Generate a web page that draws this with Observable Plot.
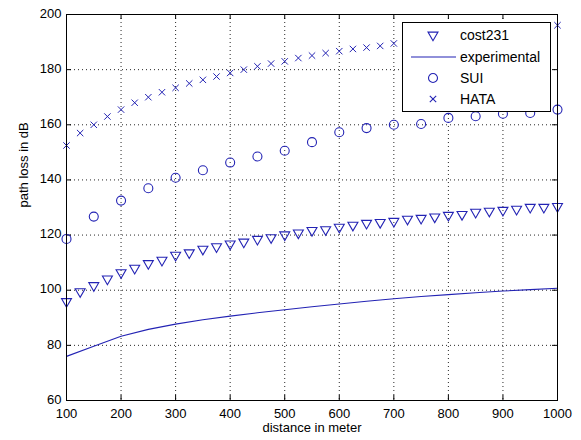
<!DOCTYPE html>
<html>
<head>
<meta charset="utf-8">
<script src="https://cdn.jsdelivr.net/npm/d3@7"></script>
<script src="https://cdn.jsdelivr.net/npm/@observablehq/plot@0.6"></script>
<style>
  html, body { margin: 0; padding: 0; background: #fff; }
  #chart { width: 581px; height: 440px; }
</style>
</head>
<body>
<div id="chart"></div>
<script>
const x25 = [100,125,150,175,200,225,250,275,300,325,350,375,400,425,450,475,500,525,550,575,600,625,650,675,700,725,750,775,800,825,850,875,900,925,950,975,1000];
const x50 = [100,150,200,250,300,350,400,450,500,550,600,650,700,750,800,850,900,950,1000];
const cost231 = [95.9,99.5,101.7,104.1,106.4,108,109.7,110.9,112.7,113.6,114.9,115.8,116.8,117.5,118.5,119.1,120.1,120.8,121.7,122.0,122.9,123.6,124.3,124.6,125.0,125.8,126.1,126.6,127.2,127.5,128.3,128.7,129.0,129.4,130.1,130.1,130.4];
const hata = [152.5,157,160,163,165.5,168,170,171.8,173.4,175,176.3,177.5,178.8,180,181.2,182.2,183,184.2,185.1,186,186.7,187.5,188,188.6,189.5,190.2,190.8,191.5,192.1,192.7,193.3,193.8,194.3,194.9,195.3,195.8,196.1];
const sui = [118.6,126.7,132.5,137,140.8,143.5,146.3,148.5,150.6,153.7,157.3,158.8,160,160.3,162.5,163.1,164,164.3,165.5];
const experimental = [76,79.7,83.3,85.8,87.7,89.3,90.6,91.8,92.9,94,95,96,96.9,97.7,98.4,99.1,99.7,100.2,100.7];
const xTicks = [100,200,300,400,500,600,700,800,900,1000];
const yTicks = [60,80,100,120,140,160,180,200];
const legendLabels = ["cost231","experimental","SUI","HATA"];

const costData = x25.map((d,i) => ({x: d, y: cost231[i]}));
const hataData = x25.map((d,i) => ({x: d, y: hata[i]}));
const suiData = x50.map((d,i) => ({x: d, y: sui[i]}));
const expData = x50.map((d,i) => ({x: d, y: experimental[i]}));

const W = 581, H = 440, mL = 66, mR = 24, mT = 14, mB = 40;
const iW = W - mL - mR, iH = H - mT - mB;
const blue = "#2323b4";
const font = "'Liberation Sans', Arial, sans-serif";

const chart = Plot.plot({
  width: W, height: H,
  marginLeft: mL, marginRight: mR, marginTop: mT, marginBottom: mB,
  style: {fontFamily: font, fontSize: "13px", color: "#000", background: "#fff"},
  x: {domain: [100, 1000]},
  y: {domain: [60, 200]},
  marks: [
    Plot.gridX(xTicks, {stroke: "#000", strokeOpacity: 0.85, strokeDasharray: "1,3"}),
    Plot.gridY(yTicks, {stroke: "#000", strokeOpacity: 0.85, strokeDasharray: "1,3"}),
    Plot.axisX(xTicks, {tickSize: 0, tickPadding: 8, fontSize: 13, label: null, tickFormat: d3.format("d")}),
    Plot.axisY(yTicks, {tickSize: 0, tickPadding: 5, fontSize: 13, label: null, dy: -1, tickFormat: d3.format("d")}),
    Plot.tickX(xTicks, {x: d => d, insetTop: iH - 5, stroke: "#000"}),
    Plot.tickX(xTicks, {x: d => d, insetBottom: iH - 5, stroke: "#000"}),
    Plot.tickY(yTicks, {y: d => d, insetRight: iW - 5, stroke: "#000"}),
    Plot.tickY(yTicks, {y: d => d, insetLeft: iW - 5, stroke: "#000"}),
    Plot.line(expData, {x: "x", y: "y", stroke: blue, strokeWidth: 1.1}),
    Plot.dot(costData, {x: "x", y: "y", symbol: "triangle", r: 3.7, rotate: 180, stroke: blue, strokeWidth: 1.1, fill: "none"}),
    Plot.dot(suiData, {x: "x", y: "y", symbol: "circle", r: 4.5, stroke: blue, strokeWidth: 1.1, fill: "none"}),
    Plot.dot(hataData, {x: "x", y: "y", symbol: "times", r: 3, stroke: blue, strokeWidth: 1, fill: "none"}),
    Plot.frame({stroke: "#000", strokeWidth: 1}),
    Plot.text(["distance in meter"], {frameAnchor: "bottom", dy: 31, fontSize: 13, fill: "#000"}),
    Plot.text(["path loss in dB"], {frameAnchor: "left", dx: -43, rotate: -90, fontSize: 13, fill: "#000"})
  ]
});

// Legend drawn on top of the plot area (opaque box like MATLAB)
const svg = d3.select(chart);
const lg = svg.append("g").attr("class", "legend")
  .attr("font-family", font).attr("font-size", 14).attr("text-anchor", "start");
lg.append("rect").attr("x", 402.5).attr("y", 22.5).attr("width", 148).attr("height", 89)
  .attr("fill", "#fff").attr("stroke", "#000").attr("stroke-width", 1);
const rows = [35, 57, 78, 99];
legendLabels.forEach((lab, i) => {
  const y = rows[i];
  const g = lg.append("g");
  if (lab === "experimental") {
    g.append("line").attr("x1", 411).attr("x2", 456).attr("y1", y).attr("y2", y)
      .attr("stroke", blue).attr("stroke-width", 1.1);
  } else {
    const sym = lab === "cost231" ? d3.symbolTriangle : lab === "SUI" ? d3.symbolCircle : d3.symbolTimes;
    const r = lab === "cost231" ? 3.7 : lab === "SUI" ? 4.5 : 3;
    g.append("path").attr("d", d3.symbol(sym, r * r * Math.PI)())
      .attr("transform", `translate(433,${y})` + (lab === "cost231" ? " rotate(180)" : ""))
      .attr("fill", "none").attr("stroke", blue).attr("stroke-width", 1.1);
  }
  g.append("text").attr("x", 460).attr("y", y).attr("dy", "0.36em")
    .attr("text-anchor", "start").attr("fill", "#000").text(lab);
});

document.getElementById("chart").appendChild(chart);
</script>
</body>
</html>
